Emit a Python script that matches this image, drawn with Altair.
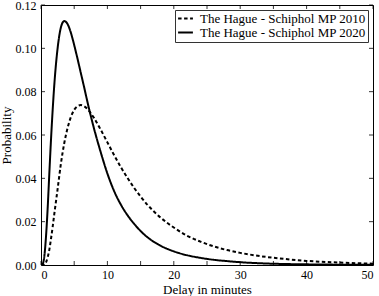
import altair as alt
import pandas as pd

# Delay (minutes) sample points
x_2010 = [0, 0.5, 0.75, 1.0, 1.25, 1.5, 1.75, 2.0, 2.5, 3.0, 3.5, 4.0, 4.5, 5.0, 5.5,
          6.0, 6.5, 7.0, 7.5, 8.0, 9.0, 10, 11, 12, 13, 14, 15, 16, 18, 20, 22, 24,
          26, 28, 30, 33, 36, 40, 45, 50]
p_2010 = [0.0, 0.0002, 0.0012, 0.0035, 0.007, 0.012, 0.0175, 0.0235, 0.035, 0.0468,
          0.0562, 0.0632, 0.0683, 0.0716, 0.0733, 0.0738, 0.0733, 0.0720, 0.0700,
          0.0678, 0.0624, 0.0566, 0.0508, 0.0453, 0.0403, 0.0357, 0.0316, 0.0279,
          0.0219, 0.0173, 0.0135, 0.0108, 0.0086, 0.0069, 0.0056, 0.0041, 0.0030,
          0.0019, 0.0011, 0.0006]

x_2020 = [0, 0.25, 0.5, 0.75, 1.0, 1.25, 1.5, 1.75, 2.0, 2.5, 3.0, 3.5, 4.0, 4.5, 5.0,
          5.5, 6.0, 6.5, 7.0, 7.5, 8.0, 9.0, 10, 11, 12, 13, 14, 15, 16, 18, 20, 22,
          24, 26, 28, 30, 33, 36, 40, 45, 50]
p_2020 = [0.0, 0.0005, 0.004, 0.013, 0.026, 0.042, 0.0575, 0.0712, 0.083, 0.100,
          0.1097, 0.1126, 0.1112, 0.1072, 0.1015, 0.0952, 0.0886, 0.0820, 0.0752,
          0.0688, 0.0628, 0.0520, 0.0422, 0.0342, 0.0280, 0.0231, 0.0191, 0.0157,
          0.0129, 0.0089, 0.0063, 0.0045, 0.0033, 0.0024, 0.0018, 0.0013, 0.0008,
          0.0005, 0.0003, 0.00015, 0.0001]

series_names = ["The Hague - Schiphol MP 2010", "The Hague - Schiphol MP 2020"]
x_ticks = [0, 5, 10, 15, 20, 25, 30, 35, 40, 45, 50]
y_ticks = [0.0, 0.02, 0.04, 0.06, 0.08, 0.10, 0.12]

W, H = 332, 260
FONT = "'Liberation Serif', 'DejaVu Serif', serif"

df = pd.concat([
    pd.DataFrame({"delay": x_2010, "p": p_2010, "series": series_names[0]}),
    pd.DataFrame({"delay": x_2020, "p": p_2020, "series": series_names[1]}),
])
xt = pd.DataFrame({"t": x_ticks})
yt = pd.DataFrame({"t": y_ticks})

xscale = alt.Scale(domain=[0, 50], nice=False, zero=False)
yscale = alt.Scale(domain=[0, 0.12], nice=False)

lines = alt.Chart(df).mark_line(strokeWidth=2, color="black", interpolate="monotone", clip=True).encode(
    x=alt.X("delay:Q", scale=xscale, title="Delay in minutes",
            axis=alt.Axis(values=x_ticks, format="d", ticks=False, domain=False, grid=False,
                          labelPadding=4, titlePadding=3)),
    y=alt.Y("p:Q", scale=yscale, title="Probability",
            axis=alt.Axis(values=y_ticks, format=".2f", ticks=False, domain=False, grid=False,
                          labelPadding=5, titlePadding=2)),
    strokeDash=alt.StrokeDash("series:N", title=None,
                              scale=alt.Scale(domain=series_names, range=[[3.5, 2.5], [1, 0]]),
                              legend=alt.Legend(orient="top-right", offset=5, fillColor="white",
                                                strokeColor="#333333", padding=2,
                                                symbolType="stroke", symbolStrokeWidth=2,
                                                symbolSize=220, symbolStrokeColor="black",
                                                labelFont=FONT, labelFontSize=13, labelLimit=0,
                                                labelColor="black", rowPadding=0,
                                                clipHeight=13, labelOffset=6)),
)

TL = 4
top_ticks = alt.Chart(xt).mark_rule(color="black", strokeWidth=0.8).encode(
    x=alt.X("t:Q", scale=xscale), y=alt.value(0), y2=alt.value(TL))
bot_ticks = alt.Chart(xt).mark_rule(color="black", strokeWidth=0.8).encode(
    x=alt.X("t:Q", scale=xscale), y=alt.value(H), y2=alt.value(H - TL))
left_ticks = alt.Chart(yt).mark_rule(color="black", strokeWidth=0.8).encode(
    y=alt.Y("t:Q", scale=yscale), x=alt.value(0), x2=alt.value(TL))
right_ticks = alt.Chart(yt).mark_rule(color="black", strokeWidth=0.8).encode(
    y=alt.Y("t:Q", scale=yscale), x=alt.value(W), x2=alt.value(W - TL))

chart = alt.layer(lines, top_ticks, bot_ticks, left_ticks, right_ticks).properties(
    width=W, height=H,
    autosize="none",
    padding={"left": 41, "top": 5, "right": 6, "bottom": 31},
    background="white",
).configure_view(
    stroke="black", strokeWidth=1
).configure_axis(
    labelFont=FONT, titleFont=FONT, labelFontSize=12, titleFontSize=13,
    labelColor="black", titleColor="black", titleFontWeight="normal",
)

chart.save("out.html", embed_options={"renderer": "svg", "actions": False})
